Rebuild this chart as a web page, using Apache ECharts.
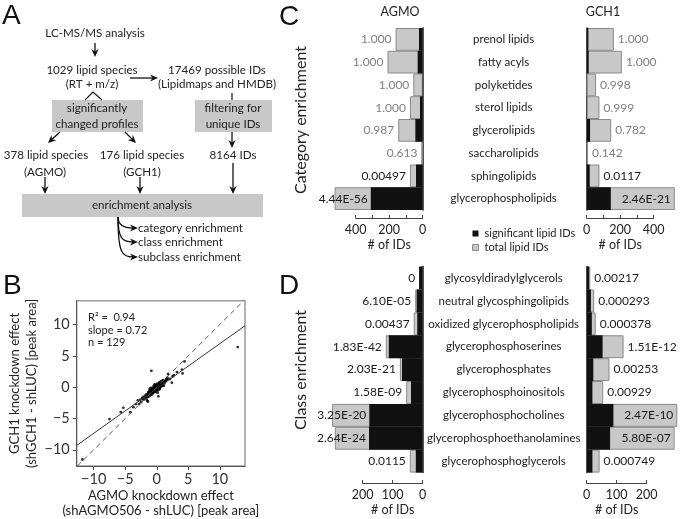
<!DOCTYPE html>
<html><head><meta charset="utf-8">
<script src="https://cdn.jsdelivr.net/npm/echarts@6/dist/echarts.min.js"></script>
<style>html,body{margin:0;padding:0;background:#fff}#c{width:680px;height:519px}</style>
</head><body><div id="c"></div>
<script>
// ---------- Panel C data (category enrichment) ----------
const categoriesC = ['prenol lipids','fatty acyls','polyketides','sterol lipids','glycerolipids','saccharolipids','sphingolipids','glycerophospholipids'];
const totalC   = [162, 210, 56, 76, 146, 8, 76, 526];
const agmoSigC = [22, 30, 2, 16, 44, 0, 40, 310];
const gch1SigC = [10, 12, 0, 2, 20, 0, 18, 144];
const agmoPC = ['1.000','1.000','1.000','1.000','0.987','0.613','0.00497','4.44E-56'];
const gch1PC = ['1.000','1.000','0.998','0.999','0.782','0.142','0.0117','2.46E-21'];

// ---------- Panel D data (class enrichment) ----------
const categoriesD = ['glycosyldiradylglycerols','neutral glycosphingolipids','oxidized glycerophospholipids','glycerophosphoserines','glycerophosphates','glycerophosphoinositols','glycerophosphocholines','glycerophosphoethanolamines','glycerophosphoglycerols'];
const totalD   = [12, 25, 30, 123, 76, 55, 302, 293, 43];
const agmoSigD = [12, 20, 18, 113, 69, 39, 178, 179, 23];
const gch1SigD = [8, 14, 17, 53, 22, 19, 89, 78, 19];
const agmoPD = ['0','6.10E-05','0.00437','1.83E-42','2.03E-21','1.58E-09','3.25E-20','2.64E-24','0.0115'];
const gch1PD = ['0.00217','0.000293','0.000378','1.51E-12','0.00253','0.00929','2.47E-10','5.80E-07','0.000749'];

// ---------- Panel B data (scatter) ----------
const scatterPoints = [
 [-11.8,-11.55],[-7.5,-5.1],[-5.7,-4.0],[-5.3,-3.3],[-4.2,-4.0],[-3.7,-3.2],[-3.3,-2.7],[-3.0,-2.1],[-2.8,-2.7],[-2.0,-1.9],
 [-1.4,-2.3],[-0.85,2.6],[0.26,-1.46],[1.8,2.1],[1.6,1.15],[2.4,0.7],[2.5,1.7],[4.0,2.8],[4.1,2.2],[4.4,4.1],[12.85,6.4],
 [-2.5,-2.4],[-2.2,-1.6],[-1.9,-1.4],[-1.8,-1.7],[-1.7,-1.2],[-1.6,-2.0],[-1.5,-1.5],[-2.1,-2.0],[-1.7,-1.46],[-1.45,-2.24],
 [1.05,0.73],[0.79,0.38],[1.74,1.25],[1.05,1.0],
 [-1.3,-1.0],[-1.25,-0.7],[-1.2,-1.2],[-1.15,-0.9],[-1.1,-0.5],[-1.05,-1.1],[-1.0,-0.8],[-0.95,-0.6],[-0.9,-1.0],[-0.9,-0.4],
 [-0.85,-0.75],[-0.8,-0.55],[-0.75,-0.9],[-0.7,-0.3],[-0.7,-0.65],[-0.65,-0.5],[-0.6,-0.8],[-0.6,-0.2],[-0.55,-0.45],[-0.5,-0.65],
 [-0.5,-0.1],[-0.45,-0.35],[-0.4,-0.55],[-0.4,0.0],[-0.35,-0.25],[-0.3,-0.45],[-0.3,0.1],[-0.25,-0.15],[-0.2,-0.4],[-0.2,0.05],
 [-0.15,-0.25],[-0.1,-0.5],[-0.1,0.15],[-0.05,-0.1],[0.0,-0.3],[0.0,0.2],[0.05,0.0],[0.1,-0.2],[0.1,0.3],[0.15,0.1],
 [0.2,-0.1],[0.2,0.4],[0.25,0.2],[0.3,-0.3],[0.3,0.05],[0.35,0.3],[0.4,0.1],[0.4,0.5],[0.45,-0.1],[0.5,0.3],
 [0.55,0.15],[0.6,0.45],[0.65,0.25],[0.7,0.6],[0.75,0.35],[0.8,0.5],[0.85,0.2],[0.9,0.7],[1.0,0.5],[1.1,0.8],
 [1.2,0.6],[1.3,1.0],[1.4,0.9],[-1.4,-1.3],[-1.35,-0.85],[-1.5,-1.1],[-1.6,-1.35],[-1.45,-1.6],[-1.2,-1.45],[-1.0,-1.3],
 [-0.8,-1.2],[-0.6,-1.0],[-0.3,-0.7],[0.0,-0.6],[0.2,-0.5],[0.5,-0.3],[0.6,0.0],[0.9,0.3],[1.1,0.2],[-0.2,0.35],
 [-0.5,0.2],[-0.8,-0.1],[-1.1,-0.25],[0.35,0.65],[0.7,0.95],[1.5,1.3],[1.7,1.5],[2.1,1.3],[2.7,1.9],[3.2,2.4],
 [-2.3,-1.8],[-2.6,-2.0],[-0.2,-0.8],[0.15,-0.9],[0.45,0.8],[1.0,1.1],[0.05,0.55],[-0.35,0.45],[-0.95,-0.15]
];
const identityLine = [[-12.6,-12.6],[13.8,13.8]];
const fitLine = [[-12.7,-9.3],[14.0,9.8]];
const scatterTicks = [-10,-5,0,5,10];
const statsText = ['R\u00B2 =  0.94','slope = 0.72','n = 129'];

const F = 'Lato';
const TXT = '#222';
const GRAY = '#c8c8c8', GRAYB = '#8a8a8a', BLACK = '#111';

const chart = echarts.init(document.getElementById('c'));

// ---------- graphic helpers (panel A etc.) ----------
function txt(x, y, s, size, opt) {
  opt = opt || {};
  return {type:'text', x:x, y:y, rotation: opt.rot || 0, z: 100,
    style:{text:s, font:(opt.weight||'normal')+' '+size+'px '+(opt.family||F), fill: opt.fill||TXT,
      textAlign: opt.align||'center', textVerticalAlign: opt.valign||'middle'}};
}
function arrow(x1,y1,x2,y2){
  const a=Math.atan2(y2-y1,x2-x1), L=8, W=3.6, N=5.5;
  const bx=x2-L*Math.cos(a), by=y2-L*Math.sin(a);
  const nx=-Math.sin(a), ny=Math.cos(a);
  const mx=x2-N*Math.cos(a), my=y2-N*Math.sin(a);
  return [
    {type:'line', shape:{x1:x1,y1:y1,x2:mx,y2:my}, style:{stroke:BLACK,lineWidth:1.3}},
    {type:'polygon', shape:{points:[[x2,y2],[bx+nx*W,by+ny*W],[mx,my],[bx-nx*W,by-ny*W]]}, style:{fill:BLACK}}
  ];
}
function curveArrow(x1,y1,x2,y2){
  const a = [
    {type:'bezierCurve', shape:{x1:x1,y1:y1,x2:x2-5,y2:y2,cpx1:x1,cpy1:y2-4,cpx2:x1+4,cpy2:y2}, style:{stroke:BLACK,lineWidth:1.3,fill:null}}
  ];
  return a.concat(arrow(x2-6,y2,x2,y2).slice(1));
}
function box(x,y,w,h){ return {type:'rect', shape:{x:x,y:y,width:w,height:h}, style:{fill:GRAY}}; }

const A = 11.6;
let graphics = [
  txt(2, 16, 'A', 28, {align:'left', family:'Liberation Sans', fill:'#111'}),
  txt(3, 286, 'B', 28, {align:'left', family:'Liberation Sans', fill:'#111'}),
  txt(279, 17, 'C', 28, {align:'left', family:'Liberation Sans', fill:'#111'}),
  txt(279, 286, 'D', 28, {align:'left', family:'Liberation Sans', fill:'#111'}),
  txt(95, 33, 'LC-MS/MS analysis', A),
  txt(92, 70, '1029 lipid species', A),
  txt(92, 84, '(RT + m/z)', A),
  txt(217, 70, '17469 possible IDs', A),
  txt(217, 84, '(Lipidmaps and HMDB)', A),
  box(52, 100, 91, 32),
  txt(97, 108, 'significantly', A),
  txt(97, 124, 'changed profiles', A),
  box(195, 100, 77, 32),
  txt(233, 108, 'filtering for', A),
  txt(233, 124, 'unique IDs', A),
  txt(46, 155, '378 lipid species', A),
  txt(45, 172, '(AGMO)', A),
  txt(142, 155, '176 lipid species', A),
  txt(142, 172, '(GCH1)', A),
  txt(233, 155, '8164 IDs', A),
  box(22, 194, 241, 23),
  txt(142, 205, 'enrichment analysis', A),
  txt(138, 228, 'category enrichment', A, {align:'left'}),
  txt(138, 242, 'class enrichment', A, {align:'left'}),
  txt(138, 257, 'subclass enrichment', A, {align:'left'}),
  {type:'polyline', shape:{points:[[85,100],[93,92],[102,100]]}, style:{stroke:BLACK,lineWidth:1.1,fill:null}},
  {type:'line', shape:{x1:232,y1:93,x2:232,y2:100}, style:{stroke:BLACK,lineWidth:1.2}},
  // panel B stats
  txt(88, 317, statsText[0], 11, {align:'left'}),
  txt(88, 330, statsText[1], 11, {align:'left'}),
  txt(88, 342, statsText[2], 11, {align:'left'}),
  // panel C/D titles
  txt(400, 12, 'AGMO', 12.5),
  txt(603, 12, 'GCH1', 12.5),
  txt(301, 120, 'Category enrichment', 16, {rot:Math.PI/2}),
  txt(301, 370, 'Class enrichment', 16, {rot:Math.PI/2})
];
graphics = graphics
  .concat(arrow(95,43,95,57))
  .concat(arrow(130,78,158,78))
  .concat(arrow(232,132,232,148))
  .concat(arrow(60,132,48,143))
  .concat(arrow(125,132,136,143))
  .concat(arrow(45,177,45,194))
  .concat(arrow(140,177,140,194))
  .concat(arrow(233,163,233,194))
  .concat(curveArrow(118,217,138,228))
  .concat(curveArrow(118,217,138,242))
  .concat(curveArrow(118,217,138,257));

// ---------- grids ----------
const sC = 67/400, sD = 60/200;
const axC = 422.7, axG = 586.7;
const grids = [
  {left: axC - 540*sC, top: 28, width: 540*sC, height: 182},        // 0 C AGMO bars
  {left: axG, top: 28, width: 540*sC, height: 182},                  // 1 C GCH1 bars
  {left: axC - 310*sD, top: 266.6, width: 310*sD, height: 206},      // 2 D AGMO bars
  {left: axG, top: 266.6, width: 310*sD, height: 206},               // 3 D GCH1 bars
  {left: axC - 400*sC, top: 217, width: 400*sC, height: 1},          // 4 C AGMO ticks
  {left: axG, top: 217, width: 400*sC, height: 1},                   // 5 C GCH1 ticks
  {left: axC - 200*sD, top: 482, width: 200*sD, height: 1},          // 6 D AGMO ticks
  {left: axG, top: 482, width: 200*sD, height: 1},                   // 7 D GCH1 ticks
  {left: 76.7, top: 300.7, width: 168.3, height: 168.6, show:true, borderColor:'#9a9a9a', borderWidth:1.5} // 8 scatter
];

const lblFont = {fontFamily:F, fontSize:11.5};
function barX(gi, max, inv){ return {gridIndex:gi, type:'value', min:0, max:max, inverse:inv, show:false}; }
function barY(gi, cats, right, showLabels){
  return {gridIndex:gi, type:'category', data:cats, inverse:true, position: right?'right':'left',
    axisLine:{show:true, onZero:false, lineStyle:{color:'#1a1a1a', width:1.5}}, axisTick:{show:false},
    axisLabel: showLabels ? Object.assign({show:true, interval:0, align:'center', margin:81, color:TXT}, lblFont) : {show:false}};
}
function tickX(gi, max, inv, labelFilter){
  return {gridIndex:gi, type:'value', min:0, max:max, interval:100, inverse:inv, position:'bottom',
    axisLine:{show:true, onZero:false, lineStyle:{color:'#444', width:1}},
    axisTick:{show:true, inside:true, length:3, lineStyle:{color:'#444'}},
    splitLine:{show:false},
    axisLabel:{color:TXT, margin:5, fontSize:12.5, fontFamily:F, formatter:function(v){return labelFilter(v)?String(v):'';}},
    name:'# of IDs', nameLocation:'middle', nameGap:20, nameTextStyle:{color:TXT, fontSize:12.5, fontFamily:F}};
}
function hidY(gi){ return {gridIndex:gi, type:'value', show:false}; }

const xAxes = [
  barX(0,540,true), barX(1,540,false), barX(2,310,true), barX(3,310,false),
  tickX(4,400,true,v=>v%200===0), tickX(5,400,false,v=>v%200===0),
  tickX(6,200,true,()=>true), tickX(7,200,false,()=>true),
  {gridIndex:8, type:'value', min:-12.7, max:14.0,
    axisLine:{show:true, onZero:false, lineStyle:{color:'#555'}},
    axisTick:{show:true, length:4, customValues:scatterTicks, lineStyle:{color:'#555'}},
    splitLine:{show:false},
    axisLabel:{customValues:scatterTicks, color:'#333', fontSize:14.5, fontFamily:F, margin:6,
      formatter:v=> v<0 ? '\u2212'+Math.abs(v) : String(v)},
    name:'AGMO knockdown effect\n(shAGMO506 - shLUC) [peak area]', nameLocation:'middle', nameGap:19,
    nameTextStyle:{color:TXT, fontSize:13, fontFamily:F, lineHeight:15}}
];
const yAxes = [
  barY(0,categoriesC,true,true), barY(1,categoriesC,false,false),
  barY(2,categoriesD,true,true), barY(3,categoriesD,false,false),
  hidY(4), hidY(5), hidY(6), hidY(7),
  {gridIndex:8, type:'value', min:-12.6, max:13.8,
    axisLine:{show:true, onZero:false, lineStyle:{color:'#555'}},
    axisTick:{show:true, length:4, customValues:scatterTicks, lineStyle:{color:'#555'}},
    splitLine:{show:false},
    axisLabel:{customValues:scatterTicks, color:'#333', fontSize:14.5, fontFamily:F, margin:7,
      formatter:v=> v<0 ? '\u2212'+Math.abs(v) : String(v)},
    name:'GCH1 knockdown effect\n(shGCH1 - shLUC) [peak area]', nameLocation:'middle', nameGap:24,
    nameTextStyle:{color:TXT, fontSize:13, fontFamily:F, lineHeight:17}}
];

// ---------- bar series ----------
function pColor(p){ return parseFloat(p) < 0.05 ? '#1a1a1a' : '#7f7f7f'; }
function barPair(gi, totals, sig, pvals, max, left){
  const inside = totals.map(t => t > 0.8*max);
  const grayData = totals.map((t,i) => {
    let lab;
    if (left) lab = inside[i] ? {show:false} : {show:true, position:'left', distance:4};
    else lab = {show:true, position: inside[i] ? 'insideRight' : 'right', distance:4};
    lab.formatter = pvals[i]; lab.color = pColor(pvals[i]); lab.fontFamily = F; lab.fontSize = 12;
    return {value:t, label:lab};
  });
  const blackData = sig.map((s,i) => {
    const lab = (left && inside[i]) ? {show:true, position:'left', distance:3, formatter:pvals[i], color:pColor(pvals[i]), fontFamily:F, fontSize:12} : {show:false};
    return {value:s, label:lab};
  });
  return [
    {type:'bar', name:'total lipid IDs', xAxisIndex:gi, yAxisIndex:gi, data:grayData, barCategoryGap:'0%', barGap:'-100%',
      itemStyle:{color:GRAY, borderColor:GRAYB, borderWidth:1}, silent:true, animation:false},
    {type:'bar', name:'significant lipid IDs', xAxisIndex:gi, yAxisIndex:gi, data:blackData, barCategoryGap:'0%', barGap:'-100%',
      itemStyle:{color:BLACK}, silent:true, animation:false}
  ];
}

const series = []
  .concat(barPair(0, totalC, agmoSigC, agmoPC, 540, true))
  .concat(barPair(1, totalC, gch1SigC, gch1PC, 540, false))
  .concat(barPair(2, totalD, agmoSigD, agmoPD, 310, true))
  .concat(barPair(3, totalD, gch1SigD, gch1PD, 310, false))
  .concat([
    {type:'line', xAxisIndex:8, yAxisIndex:8, data:identityLine, symbol:'none', animation:false,
      lineStyle:{color:'#555', width:1, type:[5,4]}},
    {type:'line', xAxisIndex:8, yAxisIndex:8, data:fitLine, symbol:'none', animation:false,
      lineStyle:{color:'#333', width:1}},
    {type:'scatter', xAxisIndex:8, yAxisIndex:8, data:scatterPoints, symbolSize:2.8, animation:false,
      itemStyle:{color:'#000'}}
  ]);

chart.setOption({
  animation:false,
  textStyle:{fontFamily:F},
  grid:grids, xAxis:xAxes, yAxis:yAxes, series:series,
  legend:{orient:'vertical', left:467, top:223, itemWidth:6, itemHeight:6, itemGap:3, icon:'rect',
    selectedMode:false, textStyle:{fontFamily:F, fontSize:11, color:TXT, padding:[0,0,0,1]},
    data:[{name:'significant lipid IDs', itemStyle:{color:BLACK}}, {name:'total lipid IDs', itemStyle:{color:GRAY, borderColor:GRAYB, borderWidth:1}}]},
  graphic:graphics
});
</script></body></html>
